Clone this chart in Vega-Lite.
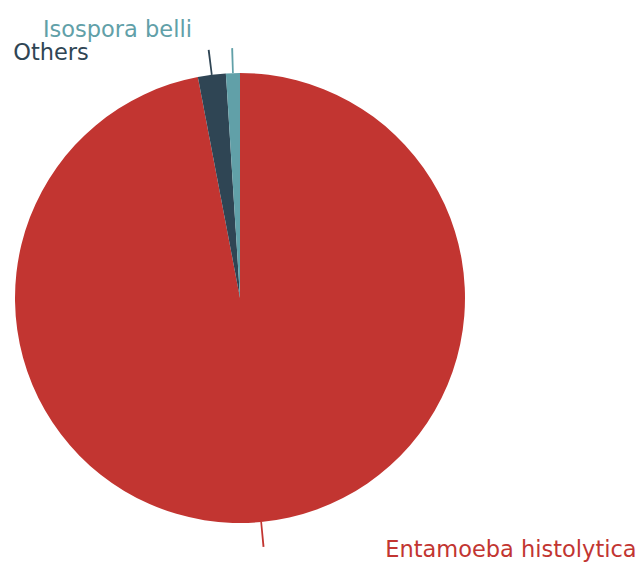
{
  "$schema": "https://vega.github.io/schema/vega-lite/v6.json",
  "autosize": {"type": "none"},
  "width": 480,
  "height": 530,
  "padding": {"left": 0, "top": 33, "right": 162, "bottom": 0},
  "background": "white",
  "config": {"view": {"stroke": null}, "text": {"font": "DejaVu Sans", "fontSize": 22.5}},
  "data": {"values": [
    {"name": "Entamoeba histolytica", "value": 97},
    {"name": "Others", "value": 2},
    {"name": "Isospora belli", "value": 1}
  ]},
  "transform": [
    {"window": [{"op": "row_number", "as": "idx"}]},
    {"window": [{"op": "sum", "field": "value", "as": "cum"}], "sort": [{"field": "idx"}], "frame": [null, 0]},
    {"calculate": "datum.cum - datum.value / 2", "as": "mid"},
    {"calculate": "datum.mid - 0.06", "as": "m0"},
    {"calculate": "datum.mid + 0.06", "as": "m1"}
  ],
  "encoding": {
    "color": {
      "field": "name", "type": "nominal",
      "scale": {"domain": ["Entamoeba histolytica", "Others", "Isospora belli"], "range": ["#c23531", "#2f4554", "#61a0a8"]},
      "legend": null
    }
  },
  "layer": [
    {
      "mark": {"type": "arc", "radius": 225},
      "encoding": {
        "theta": {"field": "value", "type": "quantitative", "stack": true, "scale": {"domain": [0, 100], "nice": false}},
        "order": {"field": "idx", "type": "quantitative"}
      }
    },
    {
      "mark": {"type": "arc", "radius": 250, "radius2": 225},
      "encoding": {
        "theta": {"field": "m0", "type": "quantitative", "stack": null},
        "theta2": {"field": "m1"}
      }
    },
    {
      "transform": [{"filter": "datum.name === 'Entamoeba histolytica'"}],
      "mark": {"type": "text", "radius": 225, "align": "left", "baseline": "middle", "dx": 124, "dy": 28},
      "encoding": {"theta": {"field": "mid", "type": "quantitative", "stack": null}, "text": {"field": "name"}}
    },
    {
      "transform": [{"filter": "datum.name === 'Others'"}],
      "mark": {"type": "text", "radius": 225, "align": "right", "baseline": "middle", "dx": -123, "dy": -22},
      "encoding": {"theta": {"field": "mid", "type": "quantitative", "stack": null}, "text": {"field": "name"}}
    },
    {
      "transform": [{"filter": "datum.name === 'Isospora belli'"}],
      "mark": {"type": "text", "radius": 225, "align": "right", "baseline": "middle", "dx": -41, "dy": -43},
      "encoding": {"theta": {"field": "mid", "type": "quantitative", "stack": null}, "text": {"field": "name"}}
    }
  ]
}
